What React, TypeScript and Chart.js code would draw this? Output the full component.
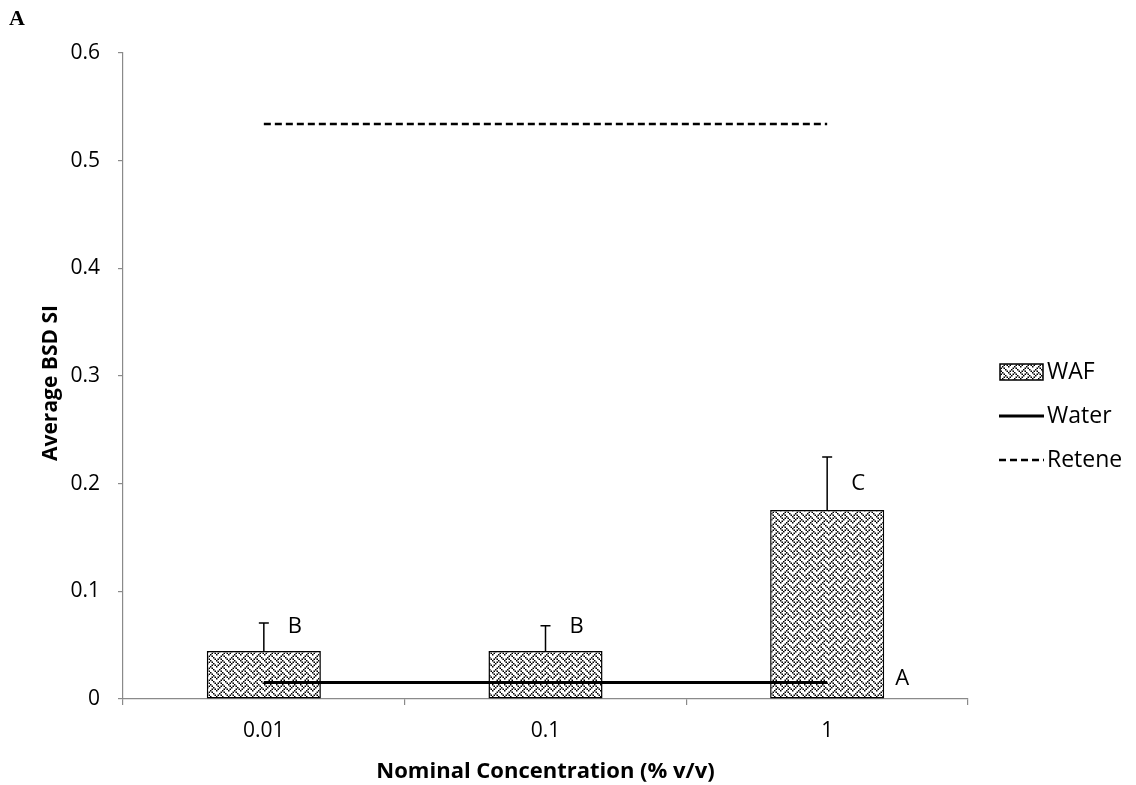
import React, { useEffect, useRef } from 'react';
import { Chart, registerables } from 'chart.js';

Chart.register(...registerables);

const categories = ['0.01', '0.1', '1'];
const wafValues = [0.0446, 0.0446, 0.1755];
const wafErrors = [0.026, 0.0234, 0.0492];
const waterValues = [0.0153, 0.0153, 0.0153];
const reteneValues = [0.534, 0.534, 0.534];
const letterLabels = ['B', 'B', 'C'];
const letterValues = [0.067, 0.067, 0.2];
const waterLetter = 'A';
const yTickValues = [0, 0.1, 0.2, 0.3, 0.4, 0.5, 0.6];
const yTickLabels = ['0', '0.1', '0.2', '0.3', '0.4', '0.5', '0.6'];
const seriesNames = ['WAF', 'Water', 'Retene'];
const panelLabel = 'A';
const xTitle = 'Nominal Concentration (% v/v)';
const yTitle = 'Average BSD SI';

const FONT = '"Open Sans", sans-serif';
const AXIS_GRAY = '#8a8a8a';

const weaveBits = [0x88, 0x54, 0x22, 0x45, 0x88, 0x14, 0x22, 0x51];

function makePattern(ctx: CanvasRenderingContext2D): CanvasPattern | string {
  const scale = 1.5;
  const size = 8 * scale;
  const c = document.createElement('canvas');
  c.width = size;
  c.height = size;
  const p = c.getContext('2d');
  if (!p) return '#aaa';
  p.fillStyle = '#fff';
  p.fillRect(0, 0, size, size);
  p.fillStyle = '#000';
  for (let r = 0; r < 8; r++) {
    for (let b = 0; b < 8; b++) {
      if (weaveBits[r] & (0x80 >> b)) {
        p.fillRect(b * scale, r * scale, scale, scale);
      }
    }
  }
  return ctx.createPattern(c, 'repeat') || '#aaa';
}

export default function App() {
  const canvasRef = useRef<HTMLCanvasElement>(null);

  useEffect(() => {
    document.body.style.margin = '0';
    const canvas = canvasRef.current;
    if (!canvas) return;
    const ctx = canvas.getContext('2d');
    if (!ctx) return;
    const pattern = makePattern(ctx);

    const annotPlugin = {
      id: 'annot',
      afterDatasetsDraw(chart: any) {
        const c = chart.ctx as CanvasRenderingContext2D;
        const xs = chart.scales.x;
        const ys = chart.scales.y;
        const meta = chart.getDatasetMeta(0);
        c.save();
        c.strokeStyle = '#000';
        c.lineWidth = 1.5;
        meta.data.forEach((bar: any, i: number) => {
          const cx = bar.x;
          const top = ys.getPixelForValue(wafValues[i] + wafErrors[i]);
          c.beginPath();
          c.moveTo(cx, bar.y);
          c.lineTo(cx, top);
          c.moveTo(cx - 5, top);
          c.lineTo(cx + 5, top);
          c.stroke();
        });
        c.fillStyle = '#000';
        c.font = `22px ${FONT}`;
        c.textAlign = 'center';
        c.textBaseline = 'middle';
        letterLabels.forEach((l, i) => {
          c.fillText(l, xs.getPixelForValue(i) + 31, ys.getPixelForValue(letterValues[i]));
        });
        c.fillText(waterLetter, xs.getPixelForValue(2) + 75, ys.getPixelForValue(waterValues[2]) - 4);
        c.restore();
      },
      afterDraw(chart: any) {
        const c = chart.ctx as CanvasRenderingContext2D;
        const area = chart.chartArea;
        c.save();
        c.fillStyle = '#000';
        // y-axis title
        c.save();
        c.translate(51, (area.top + area.bottom) / 2 + 7);
        c.rotate(-Math.PI / 2);
        c.font = `bold 21px ${FONT}`;
        c.textAlign = 'center';
        c.textBaseline = 'middle';
        c.fillText(yTitle, 0, 0);
        c.restore();
        // panel label
        c.font = 'bold 22px "Liberation Serif", serif';
        c.textAlign = 'left';
        c.textBaseline = 'middle';
        c.fillText(panelLabel, 9, 19);
        // legend
        const lx0 = 999;
        const lx1 = 1044;
        const tx = 1047;
        const rows = [372, 416, 460];
        c.font = `23px ${FONT}`;
        c.fillStyle = pattern as any;
        c.fillRect(lx0 + 1, rows[0] - 8, lx1 - lx0 - 2, 16);
        c.strokeStyle = '#000';
        c.lineWidth = 1.5;
        c.strokeRect(lx0 + 1, rows[0] - 8, lx1 - lx0 - 2, 16);
        c.lineWidth = 3;
        c.beginPath();
        c.moveTo(lx0, rows[1]);
        c.lineTo(lx1, rows[1]);
        c.stroke();
        c.lineWidth = 2.5;
        c.setLineDash([7, 4]);
        c.beginPath();
        c.moveTo(lx0, rows[2]);
        c.lineTo(lx1, rows[2]);
        c.stroke();
        c.setLineDash([]);
        c.fillStyle = '#000';
        seriesNames.forEach((n, i) => c.fillText(n, tx, rows[i]));
        c.restore();
      },
    };

    const chart = new Chart(ctx, {
      type: 'bar',
      data: {
        labels: categories,
        datasets: [
          {
            type: 'bar',
            label: seriesNames[0],
            data: wafValues,
            backgroundColor: pattern as any,
            borderColor: '#000',
            borderWidth: 1.5,
            borderSkipped: false,
            categoryPercentage: 1,
            barPercentage: 0.405,
            order: 2,
          },
          {
            type: 'line',
            label: seriesNames[1],
            data: waterValues,
            borderColor: '#000',
            borderWidth: 3,
            pointRadius: 0,
            fill: false,
            order: 1,
          },
          {
            type: 'line',
            label: seriesNames[2],
            data: reteneValues,
            borderColor: '#000',
            borderWidth: 2.5,
            borderDash: [7, 4],
            pointRadius: 0,
            fill: false,
            order: 0,
          },
        ] as any,
      },
      options: {
        responsive: false,
        animation: false,
        layout: { padding: { left: 0, right: 168, top: 53, bottom: 0 } },
        plugins: {
          legend: { display: false },
          tooltip: { enabled: false },
        },
        scales: {
          x: {
            offset: true,
            grid: {
              offset: true,
              drawOnChartArea: false,
              drawTicks: true,
              tickLength: 6,
              color: AXIS_GRAY,
              lineWidth: 1.2,
            },
            border: { display: true, color: AXIS_GRAY, width: 1.2 },
            ticks: {
              color: '#000',
              padding: 13,
              font: { family: FONT, size: 21 },
            },
            title: {
              display: true,
              text: xTitle,
              color: '#000',
              font: { family: FONT, size: 22, weight: 'bold' },
              padding: { top: 0, bottom: 0 },
            },
            afterFit(scale: any) {
              scale.height = 86;
            },
          },
          y: {
            min: 0,
            max: 0.6,
            afterBuildTicks(scale: any) {
              scale.ticks = yTickValues.map((v) => ({ value: v }));
            },
            grid: {
              drawOnChartArea: false,
              drawTicks: true,
              tickLength: 5,
              color: AXIS_GRAY,
              lineWidth: 1.2,
            },
            border: { display: true, color: AXIS_GRAY, width: 1.2 },
            ticks: {
              color: '#000',
              padding: 18,
              font: { family: FONT, size: 21 },
              callback: (_v: any, i: number) => yTickLabels[i],
            },
            title: { display: false },
            afterFit(scale: any) {
              scale.width = 123;
            },
          },
        },
      } as any,
      plugins: [annotPlugin],
    });

    return () => chart.destroy();
  }, []);

  return (
    <div style={{ width: 1136, height: 785 }}>
      <canvas ref={canvasRef} width={1136} height={785} style={{ display: 'block' }} />
    </div>
  );
}
